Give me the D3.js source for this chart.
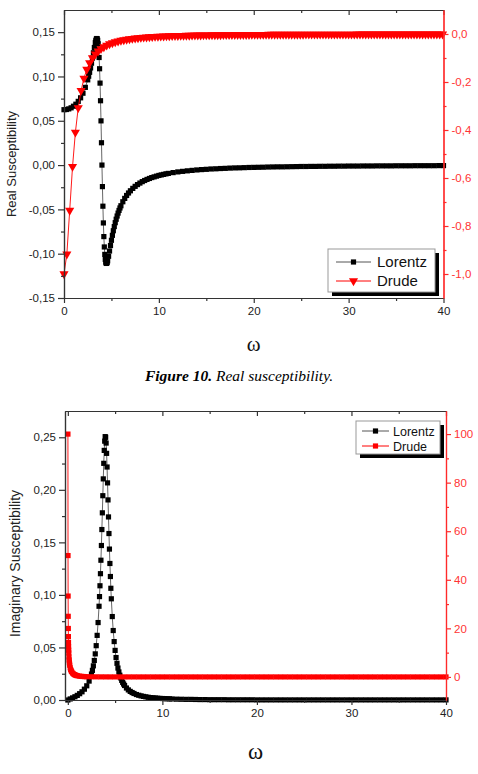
<!DOCTYPE html>
<html>
<head>
<meta charset="utf-8">
<script src="https://cdn.jsdelivr.net/npm/d3@7"></script>
<style>
  body { margin: 0; background: #fff; }
  svg { display: block; font-family: "Liberation Sans", Arial, sans-serif; }
  .axis path, .axis line { stroke: #333; stroke-width: 1.2; }
  .axis text { fill: #222; font-size: 11.5px; }
  .axis.red path, .axis.red line { stroke: #ff2a2a; }
  .axis.red text { fill: #ff3333; }
</style>
</head>
<body>
<svg id="chart" width="478" height="774"></svg>
<script>
// Lorentz oscillator (left axes), sampled finer around the resonance
const lorentzOmega = [
  0, 0.25, 0.5, 0.75, 1, 1.25, 1.5, 1.75, 2, 2.25,
  2.5, 2.6, 2.7, 2.8, 2.9, 3, 3.1, 3.2, 3.3, 3.35,
  3.4, 3.45, 3.5, 3.55, 3.6, 3.65, 3.7, 3.75, 3.8, 3.85,
  3.9, 3.95, 4, 4.05, 4.1, 4.15, 4.2, 4.25, 4.3, 4.35,
  4.4, 4.45, 4.5, 4.55, 4.6, 4.7, 4.8, 4.9, 5, 5.1,
  5.2, 5.3, 5.4, 5.5, 5.6, 5.7, 5.8, 5.9, 6, 6.2,
  6.4, 6.6, 6.8, 7, 7.25, 7.5, 7.75, 8, 8.25, 8.5,
  8.75, 9, 9.25, 9.5, 9.75, 10, 10.25, 10.5, 10.75, 11,
  11.5, 12, 12.5, 13, 13.5, 14, 14.5, 15, 15.5, 16,
  16.5, 17, 17.5, 18, 18.5, 19, 19.5, 20, 20.5, 21,
  21.5, 22, 22.5, 23, 23.5, 24, 24.5, 25, 25.5, 26,
  26.5, 27, 27.5, 28, 28.5, 29, 29.5, 30, 30.5, 31,
  31.5, 32, 32.5, 33, 33.5, 34, 34.5, 35, 35.5, 36,
  36.5, 37, 37.5, 38, 38.5, 39, 39.5, 40
];
const lorentzReal = [
  0.0625, 0.0627, 0.0634, 0.0646, 0.0664, 0.0687, 0.0719, 0.0759, 0.0811, 0.0877,
  0.0962, 0.1003, 0.1047, 0.1096, 0.1150, 0.1207, 0.1267, 0.1327, 0.1381, 0.1403,
  0.1420, 0.1428, 0.1425, 0.1407, 0.1369, 0.1307, 0.1214, 0.1087, 0.0925, 0.0726,
  0.0499, 0.0252, 0, -0.0243, -0.0464, -0.0653, -0.0807, -0.0924, -0.1008, -0.1064,
  -0.1096, -0.1110, -0.1109, -0.1098, -0.1080, -0.1029, -0.0970, -0.0908, -0.0849, -0.0793,
  -0.0741, -0.0694, -0.0650, -0.0611, -0.0575, -0.0542, -0.0512, -0.0484, -0.0459, -0.0414,
  -0.0376, -0.0343, -0.0315, -0.0290, -0.0263, -0.0240, -0.0220, -0.0203, -0.0187, -0.0174,
  -0.0162, -0.0151, -0.0141, -0.0133, -0.0125, -0.0117, -0.0111, -0.0105, -0.0099, -0.0094,
  -0.0085, -0.0077, -0.0071, -0.0065, -0.0060, -0.0055, -0.0051, -0.0048, -0.0044, -0.0042,
  -0.0039, -0.0037, -0.0034, -0.0032, -0.0031, -0.0029, -0.0027, -0.0026, -0.0025, -0.0024,
  -0.0022, -0.0021, -0.0020, -0.0020, -0.0019, -0.0018, -0.0017, -0.0016, -0.0016, -0.0015,
  -0.0015, -0.0014, -0.0014, -0.0013, -0.0013, -0.0012, -0.0012, -0.0011, -0.0011, -0.0011,
  -0.0010, -0.0010, -0.0010, -0.0009, -0.0009, -0.0009, -0.0009, -0.0008, -0.0008, -0.0008,
  -0.0008, -0.0007, -0.0007, -0.0007, -0.0007, -0.0007, -0.0006, -0.0006
];
const lorentzImag = [
  0, 0.0010, 0.0020, 0.0031, 0.0044, 0.0060, 0.0078, 0.0103, 0.0135, 0.0180,
  0.0247, 0.0282, 0.0325, 0.0376, 0.0439, 0.0517, 0.0615, 0.0737, 0.0892, 0.0984,
  0.1087, 0.1202, 0.1330, 0.1470, 0.1622, 0.1781, 0.1944, 0.2104, 0.2252, 0.2375,
  0.2463, 0.2506, 0.2500, 0.2445, 0.2347, 0.2217, 0.2066, 0.1904, 0.1742, 0.1584,
  0.1436, 0.1299, 0.1175, 0.1063, 0.0963, 0.0794, 0.0661, 0.0556, 0.0472, 0.0404,
  0.0349, 0.0304, 0.0267, 0.0236, 0.0210, 0.0187, 0.0168, 0.0152, 0.0138, 0.0114,
  0.0096, 0.0082, 0.0071, 0.0062, 0.0052, 0.0045, 0.0039, 0.0034, 0.0030, 0.0026,
  0.0023, 0.0021, 0.0019, 0.0017, 0.0015, 0.0014, 0.0013, 0.0012, 0.0011, 0.0010,
  0.0008, 0.0007, 0.0006, 0.0006, 0.0005, 0.0004, 0.0004, 0.0003, 0.0003, 0.0003,
  0.0003, 0.0002, 0.0002, 0.0002, 0.0002, 0.0002, 0.0002, 0.0001, 0.0001, 0.0001,
  0.0001, 0.0001, 0.0001, 0.0001, 0.0001, 0.0001, 0.0001, 0.0001, 0.0001, 0.0001,
  0.0001, 0.0001, 0.0001, 0.0001, 0.0001, 0.0001, 0.0001, 0.0001, 0.0001, 0.0001,
  0.0001, 0.0001, 0.0001, 0.0001, 0.0001, 0.0001, 0.0001, 0.0001, 0.0001, 0.0001,
  0.0001, 0.0001, 0.0001, 0.0001, 0.0001, 0.0001, 0.0001, 0.0001
];

// Drude model, real part (right axis of the first panel)
const drudeRealOmega = [
  0, 0.3, 0.6, 0.9, 1.2, 1.5, 1.8, 2.1, 2.4, 2.7,
  3, 3.3, 3.6, 3.9, 4.2, 4.5, 4.8, 5.1, 5.4, 5.7,
  6, 6.3, 6.6, 6.9, 7.2, 7.5, 7.8, 8.1, 8.4, 8.7,
  9, 9.3, 9.6, 9.9, 10.2, 10.5, 10.8, 11.1, 11.4, 11.7,
  12, 12.3, 12.6, 12.9, 13.2, 13.5, 13.8, 14.1, 14.4, 14.7,
  15, 15.3, 15.6, 15.9, 16.2, 16.5, 16.8, 17.1, 17.4, 17.7,
  18, 18.3, 18.6, 18.9, 19.2, 19.5, 19.8, 20.1, 20.4, 20.7,
  21, 21.3, 21.6, 21.9, 22.2, 22.5, 22.8, 23.1, 23.4, 23.7,
  24, 24.3, 24.6, 24.9, 25.2, 25.5, 25.8, 26.1, 26.4, 26.7,
  27, 27.3, 27.6, 27.9, 28.2, 28.5, 28.8, 29.1, 29.4, 29.7,
  30, 30.3, 30.6, 30.9, 31.2, 31.5, 31.8, 32.1, 32.4, 32.7,
  33, 33.3, 33.6, 33.9, 34.2, 34.5, 34.8, 35.1, 35.4, 35.7,
  36, 36.3, 36.6, 36.9, 37.2, 37.5, 37.8, 38.1, 38.4, 38.7,
  39, 39.3, 39.6, 39.9
];
const drudeReal = [
  -1, -0.9174, -0.7353, -0.5525, -0.4098, -0.3077, -0.2358, -0.1848, -0.1479, -0.1206,
  -0.1, -0.0841, -0.0716, -0.0617, -0.0536, -0.0471, -0.0416, -0.0370, -0.0332, -0.0299,
  -0.0270, -0.0246, -0.0224, -0.0206, -0.0189, -0.0175, -0.0162, -0.0150, -0.0140, -0.0130,
  -0.0122, -0.0114, -0.0107, -0.0101, -0.0095, -0.0089, -0.0085, -0.0081, -0.0076, -0.0073,
  -0.0069, -0.0066, -0.0063, -0.0060, -0.0057, -0.0055, -0.0052, -0.0050, -0.0048, -0.0046,
  -0.0044, -0.0043, -0.0041, -0.0039, -0.0038, -0.0037, -0.0035, -0.0034, -0.0033, -0.0032,
  -0.0031, -0.0030, -0.0029, -0.0028, -0.0027, -0.0026, -0.0025, -0.0025, -0.0024, -0.0023,
  -0.0023, -0.0022, -0.0021, -0.0021, -0.0020, -0.0020, -0.0019, -0.0019, -0.0018, -0.0018,
  -0.0017, -0.0017, -0.0016, -0.0016, -0.0016, -0.0015, -0.0015, -0.0015, -0.0014, -0.0014,
  -0.0014, -0.0013, -0.0013, -0.0013, -0.0013, -0.0012, -0.0012, -0.0012, -0.0012, -0.0011,
  -0.0011, -0.0011, -0.0011, -0.0010, -0.0010, -0.0010, -0.0010, -0.0010, -0.0010, -0.0009,
  -0.0009, -0.0009, -0.0009, -0.0009, -0.0009, -0.0008, -0.0008, -0.0008, -0.0008, -0.0008,
  -0.0008, -0.0008, -0.0007, -0.0007, -0.0007, -0.0007, -0.0007, -0.0007, -0.0007, -0.0007,
  -0.0007, -0.0006, -0.0006, -0.0006
];

// Drude model, imaginary part (right axis of the second panel)
const drudeImagOmega = [
  0.01, 0.02, 0.03, 0.04, 0.05, 0.06, 0.07, 0.08, 0.09, 0.1,
  0.12, 0.14, 0.16, 0.18, 0.2, 0.25, 0.3, 0.35, 0.4, 0.5,
  0.6, 0.7, 0.8, 0.9, 1, 1.2, 1.4, 1.6, 1.8, 2,
  2.5, 3, 3.5, 4, 4.5, 5, 5.5, 6, 6.5, 7,
  7.5, 8, 8.5, 9, 9.5, 10, 10.5, 11, 11.5, 12,
  12.5, 13, 13.5, 14, 14.5, 15, 15.5, 16, 16.5, 17,
  17.5, 18, 18.5, 19, 19.5, 20, 20.5, 21, 21.5, 22,
  22.5, 23, 23.5, 24, 24.5, 25, 25.5, 26, 26.5, 27,
  27.5, 28, 28.5, 29, 29.5, 30, 30.5, 31, 31.5, 32,
  32.5, 33, 33.5, 34, 34.5, 35, 35.5, 36, 36.5, 37,
  37.5, 38, 38.5, 39, 39.5, 40
];
const drudeImag = [
  99.99, 49.98, 33.3, 24.96, 19.95, 16.61, 14.22, 12.42, 11.02, 9.9,
  8.21, 6.98, 6.09, 5.38, 4.81, 3.76, 3.06, 2.55, 2.16, 1.6,
  1.23, 0.96, 0.76, 0.61, 0.5, 0.34, 0.24, 0.18, 0.13, 0.1,
  0.055, 0.033, 0.022, 0.015, 0.01, 0.008, 0.006, 0.005, 0.004, 0.003,
  0.002, 0.002, 0.002, 0.001, 0.001, 0.001, 0.001, 0.001, 0.001, 0.001,
  0.0005, 0.0005, 0.0004, 0.0004, 0.0003, 0.0003, 0.0003, 0.0002, 0.0002, 0.0002,
  0.0002, 0.0002, 0.0002, 0.0001, 0.0001, 0.0001, 0.0001, 0.0001, 0.0001, 0.0001,
  0.0001, 0.0001, 0.0001, 0.0001, 0.0001, 0.0001, 0.0001, 0.0001, 0.0001, 0.0001,
  0, 0, 0, 0, 0, 0, 0, 0, 0, 0,
  0, 0, 0, 0, 0, 0, 0, 0, 0, 0,
  0, 0, 0, 0, 0, 0
];

// tick values
const omegaTicks = [0, 10, 20, 30, 40];
const omegaMinorTicks = [5, 15, 25, 35];
const realLeftTicks = [-0.15, -0.10, -0.05, 0, 0.05, 0.10, 0.15];
const realLeftMinor = [-0.125, -0.075, -0.025, 0.025, 0.075, 0.125];
const realRightTicks = [-1.0, -0.8, -0.6, -0.4, -0.2, 0];
const realRightMinor = [-0.9, -0.7, -0.5, -0.3, -0.1];
const imagLeftTicks = [0, 0.05, 0.10, 0.15, 0.20, 0.25];
const imagLeftMinor = [0.025, 0.075, 0.125, 0.175, 0.225];
const imagRightTicks = [0, 20, 40, 60, 80, 100];
const imagRightMinor = [10, 30, 50, 70, 90];

const svg = d3.select('#chart');
const locale = d3.formatLocale({ decimal: ',', thousands: '.', grouping: [3], currency: ['', ''], minus: '-' });

const zip = (xs, ys) => xs.map((x, i) => [x, ys[i]]);

function drawPanel(cfg) {
  const g = svg.append('g');
  const x = d3.scaleLinear().domain(cfg.xDomain).range([cfg.left, cfg.right]);
  const yL = d3.scaleLinear().domain(cfg.leftDomain).range([cfg.bottom, cfg.top]);
  const yR = d3.scaleLinear().domain(cfg.rightDomain).range([cfg.bottom, cfg.top]);

  // series: lines first, markers on top, Drude above Lorentz
  cfg.series.forEach((s) => {
    const y = s.axis === 'left' ? yL : yR;
    const pts = zip(s.x, s.y);
    g.append('path')
      .datum(pts)
      .attr('fill', 'none')
      .attr('stroke', s.lineColor)
      .attr('stroke-width', 0.9)
      .attr('d', d3.line().x((d) => x(d[0])).y((d) => y(d[1])));
    g.append('g')
      .selectAll('path')
      .data(pts)
      .enter()
      .append('path')
      .attr('d', d3.symbol().type(s.symbol).size(s.size))
      .attr('transform', (d) => `translate(${x(d[0])},${y(d[1])})${s.flip ? ' rotate(180)' : ''}`)
      .attr('fill', s.color);
  });

  // x axes (bottom labelled, top mirrored with inward ticks)
  g.append('g').attr('class', 'axis').attr('transform', `translate(0,${cfg.bottom})`)
    .call(d3.axisBottom(x).tickValues(omegaTicks).tickSize(5).tickSizeOuter(0).tickPadding(4).tickFormat(d3.format('d')));
  g.append('g').attr('class', 'axis').attr('transform', `translate(0,${cfg.bottom})`)
    .call(d3.axisBottom(x).tickValues(omegaMinorTicks).tickSize(3).tickSizeOuter(0).tickFormat(''));
  g.append('g').attr('class', 'axis').attr('transform', `translate(0,${cfg.top})`)
    .call(d3.axisTop(x).tickValues(omegaTicks).tickSize(-5).tickSizeOuter(0).tickFormat(''));
  g.append('g').attr('class', 'axis').attr('transform', `translate(0,${cfg.top})`)
    .call(d3.axisTop(x).tickValues(omegaMinorTicks).tickSize(-3).tickSizeOuter(0).tickFormat(''));

  // left axis
  g.append('g').attr('class', 'axis').attr('transform', `translate(${cfg.left},0)`)
    .call(d3.axisLeft(yL).tickValues(cfg.leftTicks).tickSize(6).tickSizeOuter(0).tickPadding(3).tickFormat(locale.format(cfg.leftFormat)));
  g.append('g').attr('class', 'axis').attr('transform', `translate(${cfg.left},0)`)
    .call(d3.axisLeft(yL).tickValues(cfg.leftMinor).tickSize(3).tickSizeOuter(0).tickFormat(''));

  // right axis in red
  g.append('g').attr('class', 'axis red').attr('transform', `translate(${cfg.right},0)`)
    .call(d3.axisRight(yR).tickValues(cfg.rightTicks).tickSize(5).tickSizeOuter(0).tickPadding(3).tickFormat(locale.format(cfg.rightFormat)));
  g.append('g').attr('class', 'axis red').attr('transform', `translate(${cfg.right},0)`)
    .call(d3.axisRight(yR).tickValues(cfg.rightMinor).tickSize(3).tickSizeOuter(0).tickFormat(''));

  // y title
  g.append('text')
    .attr('transform', `translate(${cfg.titleX},${(cfg.top + cfg.bottom) / 2 + cfg.titleDy}) rotate(-90)`)
    .attr('text-anchor', 'middle')
    .style('font-size', cfg.titleSize + 'px')
    .attr('fill', '#222')
    .text(cfg.title);

  // omega label
  g.append('text')
    .attr('x', (cfg.left + cfg.right) / 2)
    .attr('y', cfg.omegaY)
    .attr('text-anchor', 'middle')
    .style('font-family', '"Liberation Serif", "DejaVu Serif", serif')
    .style('font-size', cfg.omegaSize + 'px')
    .attr('fill', '#111')
    .text('ω');

  // legend with drop shadow
  const lg = cfg.legend;
  const legend = g.append('g').attr('transform', `translate(${lg.x},${lg.y})`);
  legend.append('rect').attr('x', 4).attr('y', 4).attr('width', lg.w).attr('height', lg.h).attr('fill', '#000');
  legend.append('rect').attr('width', lg.w).attr('height', lg.h).attr('fill', '#fff').attr('stroke', '#999').attr('stroke-width', 1);
  cfg.series.forEach((s, i) => {
    const ry = lg.row0 + i * lg.rowGap;
    legend.append('line')
      .attr('x1', lg.lineX0).attr('x2', lg.lineX1).attr('y1', ry).attr('y2', ry)
      .attr('stroke', s.lineColor).attr('stroke-width', 1);
    legend.append('path')
      .attr('d', d3.symbol().type(s.symbol).size(s.size))
      .attr('transform', `translate(${(lg.lineX0 + lg.lineX1) / 2},${ry})${s.flip ? ' rotate(180)' : ''}`)
      .attr('fill', s.color);
    legend.append('text')
      .attr('x', lg.textX).attr('y', ry + lg.fontSize * 0.36)
      .style('font-size', lg.fontSize + 'px')
      .attr('fill', '#111')
      .text(s.name);
  });
}

drawPanel({
  left: 64, right: 443.5, top: 10, bottom: 298,
  xDomain: [0, 40], leftDomain: [-0.15, 0.175], rightDomain: [-1.1, 0.1],
  leftTicks: realLeftTicks, leftMinor: realLeftMinor, leftFormat: '.2f',
  rightTicks: realRightTicks, rightMinor: realRightMinor, rightFormat: '.1f',
  title: 'Real Susceptibility', titleX: 16, titleDy: 10, titleSize: 13,
  omegaY: 351, omegaSize: 21,
  series: [
    { name: 'Lorentz', x: lorentzOmega, y: lorentzReal, axis: 'left', color: '#000', lineColor: '#555', symbol: d3.symbolSquare, size: 27 },
    { name: 'Drude', x: drudeRealOmega, y: drudeReal, axis: 'right', color: '#f00', lineColor: '#f00', symbol: d3.symbolTriangle, size: 36, flip: true }
  ],
  legend: { x: 328, y: 249, w: 107, h: 43, row0: 13, rowGap: 19, lineX0: 8, lineX1: 43, textX: 49, fontSize: 15 }
});

drawPanel({
  left: 65, right: 446, top: 411, bottom: 700,
  xDomain: [-0.3, 40], leftDomain: [0, 0.275], rightDomain: [-9.5, 109.5],
  leftTicks: imagLeftTicks, leftMinor: imagLeftMinor, leftFormat: '.2f',
  rightTicks: imagRightTicks, rightMinor: imagRightMinor, rightFormat: 'd',
  title: 'Imaginary Susceptibility', titleX: 20, titleDy: 8, titleSize: 14,
  omegaY: 759, omegaSize: 23,
  series: [
    { name: 'Lorentz', x: lorentzOmega, y: lorentzImag, axis: 'left', color: '#000', lineColor: '#555', symbol: d3.symbolSquare, size: 27 },
    { name: 'Drude', x: drudeImagOmega, y: drudeImag, axis: 'right', color: '#f00', lineColor: '#f00', symbol: d3.symbolSquare, size: 27 }
  ],
  legend: { x: 356, y: 421, w: 84, h: 33, row0: 10, rowGap: 15, lineX0: 6, lineX1: 33, textX: 37, fontSize: 12.5 }
});

// caption between the two panels
svg.append('text')
  .attr('x', 239)
  .attr('y', 381)
  .attr('text-anchor', 'middle')
  .style('font-family', '"Liberation Serif", "Times New Roman", serif')
  .style('font-size', '15.5px')
  .style('font-style', 'italic')
  .call((t) => {
    t.append('tspan').style('font-weight', 'bold').text('Figure 10.');
    t.append('tspan').text(' Real susceptibility.');
  });
</script>
</body>
</html>
